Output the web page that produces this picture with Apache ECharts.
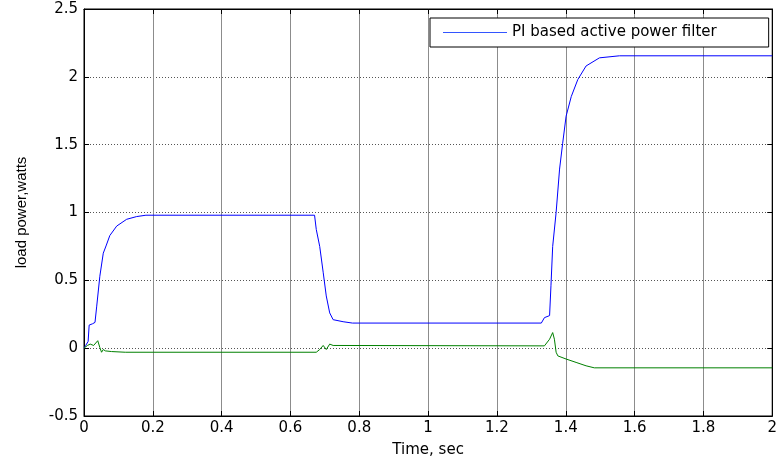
<!DOCTYPE html>
<html>
<head>
<meta charset="utf-8">
<script src="https://cdn.jsdelivr.net/npm/echarts@6/dist/echarts.min.js"></script>
<style>html,body{margin:0;padding:0;background:#fff}#c{width:780px;height:463px}</style>
</head>
<body>
<div id="c"></div>
<script>
const timeBlue = [0, 0.005, 0.012, 0.015, 0.025, 0.032, 0.037, 0.046, 0.056, 0.065, 0.075, 0.095, 0.124, 0.153, 0.18, 0.67, 0.675, 0.685, 0.695, 0.704, 0.714, 0.724, 0.753, 0.78, 1.329, 1.338, 1.353, 1.357, 1.362, 1.372, 1.382, 1.391, 1.401, 1.416, 1.435, 1.459, 1.498, 1.556, 2];
const valBlue = [0, 0.02, 0.05, 0.17, 0.18, 0.19, 0.31, 0.53, 0.70, 0.76, 0.83, 0.90, 0.95, 0.97, 0.98, 0.98, 0.875, 0.75, 0.56, 0.385, 0.26, 0.21, 0.195, 0.185, 0.185, 0.225, 0.24, 0.46, 0.75, 1.0, 1.32, 1.51, 1.71, 1.855, 1.98, 2.08, 2.14, 2.155, 2.155];
const timeGreen = [0, 0.01, 0.018, 0.028, 0.04, 0.046, 0.051, 0.056, 0.062, 0.08, 0.12, 0.675, 0.685, 0.695, 0.704, 0.714, 0.724, 1.338, 1.353, 1.362, 1.367, 1.372, 1.377, 1.401, 1.43, 1.459, 1.483, 2];
const valGreen = [0, 0.02, 0.03, 0.02, 0.055, 0.005, -0.03, -0.01, -0.02, -0.025, -0.03, -0.03, -0.01, 0.02, -0.01, 0.03, 0.02, 0.017, 0.066, 0.115, 0.066, -0.03, -0.057, -0.08, -0.105, -0.13, -0.145, -0.145];
const xTicks = {min: 0, max: 2, interval: 0.2};
const yTicks = {min: -0.5, max: 2.5, interval: 0.5};
const legendName = 'PI based active power filter';
const xName = 'Time, sec';
const yName = 'load power,watts';

const pairs = (t, v) => t.map((x, i) => [x, v[i]]);
const wide = 'DejaVu Sans, Verdana, sans-serif';
const font = 'Liberation Sans, Arial, sans-serif';
const chart = echarts.init(document.getElementById('c'), null, {renderer: 'canvas'});
chart.setOption({
  animation: false,
  backgroundColor: '#fff',
  grid: {left: 84, right: 7, top: 9, bottom: 46, show: true, borderColor: '#000', borderWidth: 1},
  legend: {
    data: [{name: legendName, icon: 'rect'}], left: 430, top: 18, orient: 'horizontal',
    borderColor: '#000', borderWidth: 1, padding: [7, 52, 7, 13], backgroundColor: '#fff',
    itemWidth: 64, itemHeight: 1, itemGap: 6,
    itemStyle: {color: '#3355ff'},
    textStyle: {fontFamily: wide, fontSize: 15, color: '#000'}
  },
  xAxis: [{
    type: 'value', min: xTicks.min, max: xTicks.max, interval: xTicks.interval,
    name: xName, nameLocation: 'middle', nameGap: 27,
    nameTextStyle: {fontFamily: wide, fontSize: 15, color: '#000'},
    axisLine: {show: true, onZero: false, lineStyle: {color: '#000'}},
    axisTick: {show: true, inside: true, length: 5, lineStyle: {color: '#000'}},
    axisLabel: {fontFamily: wide, fontSize: 15, color: '#000', margin: 5,
      formatter: v => String(Math.round(v * 10) / 10)},
    splitLine: {show: true, lineStyle: {color: '#8c8c8c', width: 1}}
  }, {
    type: 'value', position: 'top', min: xTicks.min, max: xTicks.max, interval: xTicks.interval,
    axisLine: {show: true, onZero: false, lineStyle: {color: '#000'}},
    axisTick: {show: true, inside: true, length: 5, lineStyle: {color: '#000'}},
    axisLabel: {show: false}, splitLine: {show: false}
  }],
  yAxis: [{
    type: 'value', min: yTicks.min, max: yTicks.max, interval: yTicks.interval,
    name: yName, nameLocation: 'middle', nameGap: 55, nameRotate: 90,
    nameTextStyle: {fontFamily: font, fontSize: 15, color: '#000'},
    axisLine: {show: true, onZero: false, lineStyle: {color: '#000'}},
    axisTick: {show: true, inside: true, length: 5, lineStyle: {color: '#000'}},
    axisLabel: {fontFamily: wide, fontSize: 15, color: '#000', margin: 6},
    splitLine: {show: true, lineStyle: {color: '#555', width: 1, type: [1, 2]}}
  }, {
    type: 'value', position: 'right', min: yTicks.min, max: yTicks.max, interval: yTicks.interval,
    axisLine: {show: true, onZero: false, lineStyle: {color: '#000'}},
    axisTick: {show: true, inside: true, length: 5, lineStyle: {color: '#000'}},
    axisLabel: {show: false}, splitLine: {show: false}
  }],
  series: [{
    name: legendName, type: 'line', data: pairs(timeBlue, valBlue),
    symbol: 'none', lineStyle: {color: '#0000ff', width: 1}, itemStyle: {color: '#0000ff'}
  }, {
    name: 'green', type: 'line', data: pairs(timeGreen, valGreen),
    symbol: 'none', lineStyle: {color: '#008000', width: 1}, itemStyle: {color: '#008000'}
  }]
});
</script>
</body>
</html>
